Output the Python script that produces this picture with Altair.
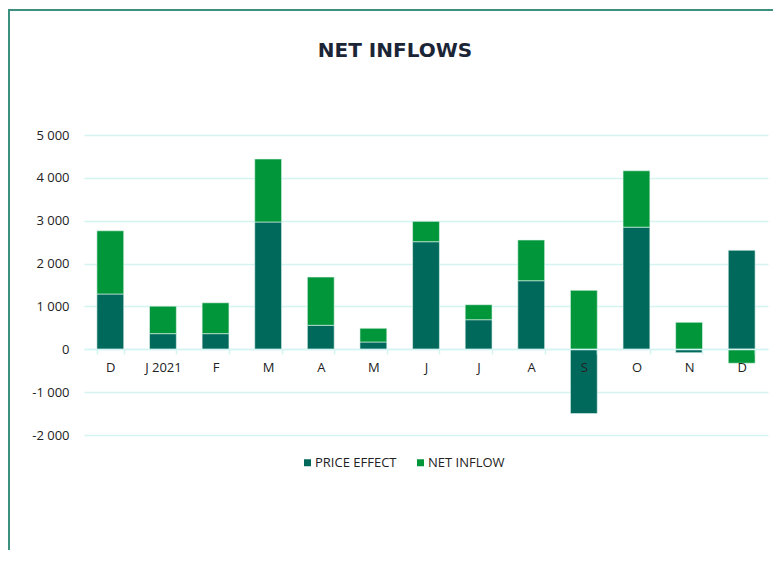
import altair as alt
import pandas as pd

months = ["D", "J 2021", "F", "M", "A", "M ", "J", "J ", "A ", "S", "O", "N", "D "]
price_effect = [1290, 365, 365, 2970, 560, 170, 2510, 690, 1600, -1500, 2850, -80, 2310]
net_inflow = [1475, 640, 720, 1470, 1125, 320, 475, 350, 950, 1375, 1315, 630, -325]
series = ["PRICE EFFECT", "NET INFLOW"]
colors = ["#00695C", "#009639"]
y_ticks = [-2000, -1000, 0, 1000, 2000, 3000, 4000, 5000]

rows = []
for i, m in enumerate(months):
    rows.append({"month": m, "series": series[0], "order": 0, "value": price_effect[i]})
    rows.append({"month": m, "series": series[1], "order": 1, "value": net_inflow[i]})
df = pd.DataFrame(rows)

FONT = "Open Sans"
GRID = "#d4f4f2"

bars = alt.Chart(df).mark_bar(stroke="#e3f5ef", strokeWidth=0.6).encode(
    x=alt.X(
        "month:N",
        sort=months,
        title=None,
        scale=alt.Scale(paddingInner=0.49, paddingOuter=0.245),
        axis=alt.Axis(
            labelExpr="trim(datum.label)",
            labelAngle=0,
            labelFont=FONT,
            labelFontSize=13,
            labelColor="#222222",
            labelPadding=7,
            domainColor=GRID,
            domainWidth=1.5,
            tickColor=GRID,
            tickWidth=1.5,
            tickSize=5,
            tickBand="extent",
            offset=-86,
            zindex=1,
        ),
    ),
    y=alt.Y(
        "value:Q",
        stack="zero",
        title=None,
        scale=alt.Scale(domain=[-2000, 5000], nice=False),
        axis=alt.Axis(
            values=y_ticks,
            labelExpr="(datum.value < 0 ? '-' : '') + replace(format(abs(datum.value), ','), ',', ' ')",
            labelFont=FONT,
            labelFontSize=13,
            labelColor="#222222",
            labelPadding=15,
            ticks=False,
            domain=False,
            gridColor=GRID,
            gridWidth=1.5,
        ),
    ),
    color=alt.Color(
        "series:N",
        sort=series,
        scale=alt.Scale(domain=series, range=colors),
        legend=alt.Legend(
            title=None,
            orient="none",
            legendX=217,
            legendY=321,
            direction="horizontal",
            symbolType="square",
            symbolSize=49,
            symbolStrokeWidth=0,
            labelFont=FONT,
            labelFontSize=13,
            labelColor="#222222",
            labelOffset=1,
            columnPadding=17,
            padding=0,
        ),
    ),
    order=alt.Order("order:Q"),
)

frame_top = alt.Chart(df).mark_rule(color="#3d8f80", strokeWidth=2).encode(
    x=alt.value(-76), x2=alt.value(700), y=alt.value(-125)
)
frame_left = alt.Chart(df).mark_rule(color="#3d8f80", strokeWidth=2).encode(
    x=alt.value(-75), y=alt.value(-126), y2=alt.value(420)
)

chart = alt.layer(bars, frame_top, frame_left).properties(
    width=684,
    height=300,
    autosize=alt.AutoSizeParams(type="none"),
    padding={"left": 76, "top": 127, "right": 5, "bottom": 115},
    title=alt.TitleParams(
        "NET INFLOWS",
        font="DejaVu Sans",
        fontSize=20,
        fontWeight="bold",
        color="#1b2536",
        anchor="middle",
        frame="group",
        baseline="alphabetic",
        offset=-69,
        dx=-31,
    ),
).configure(background="white").configure_view(stroke=None)

chart.save("out.html", embed_options={"renderer": "svg", "actions": False})
